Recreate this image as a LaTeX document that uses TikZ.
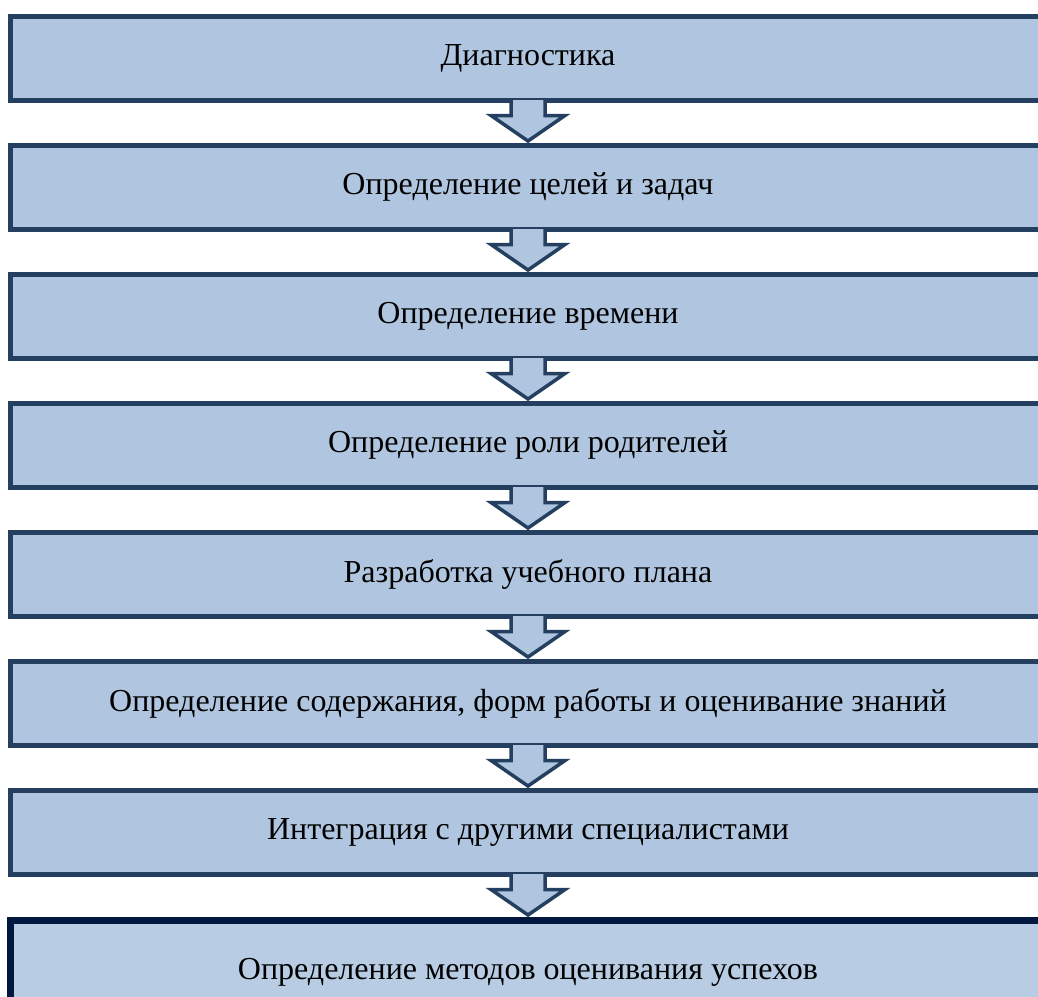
\documentclass[tikz,border=0pt]{standalone}
\usepackage{fontspec}
\setmainfont{Liberation Serif}
\usetikzlibrary{calc}
\definecolor{boxfill}{HTML}{B0C6E0}
\definecolor{boxline}{HTML}{243F60}
\definecolor{lastfill}{HTML}{B8CCE4}
\definecolor{lastline}{HTML}{00173F}
\tikzset{
  stepbox/.style={draw=boxline, fill=boxfill, line width=5pt, anchor=north,
    minimum width=1035pt, minimum height=84pt, inner sep=0pt,
    font=\fontsize{32}{36}\selectfont},
  lastbox/.style={stepbox, draw=lastline, fill=lastfill, line width=7pt,
    minimum height=104pt},
  flow/.style={draw=boxline, fill=boxfill, line width=3.5pt, line join=miter}
}

\begin{document}
\begin{tikzpicture}[x=1pt, y=-1pt]
  \clip (0,0) rectangle (1038,996);
  \fill[white] (0,0) rectangle (1038,996);
  % steps
  \node[stepbox] (s1) at (528,13.5) {Диагностика};
  \node[stepbox] (s2) at (528,142.5) {Определение целей и задач};
  \node[stepbox] (s3) at (528,271.5) {Определение времени};
  \node[stepbox] (s4) at (528,400.5) {Определение роли родителей};
  \node[stepbox] (s5) at (528,529.5) {Разработка учебного плана};
  \node[stepbox] (s6) at (528,658.5) {Определение содержания, форм работы и оценивание знаний};
  \node[stepbox] (s7) at (528,787.5) {Интеграция с другими специалистами};
  \node[lastbox] (s8) at (528,916.5) {Определение методов оценивания успехов};
  % block arrows
  \foreach \a/\b in {s1/s2, s2/s3, s3/s4, s4/s5, s5/s6, s6/s7, s7/s8}
    \path[flow] ($(\a.south)+(-17,-2.5)$) -- ++(0,15.5) -- ++(-20,0)
      -- ($(\b.north)+(0,-1.5)$) -- ($(\a.south)+(37,13)$) -- ++(-20,0)
      -- ++(0,-15.5);
\end{tikzpicture}
\end{document}
